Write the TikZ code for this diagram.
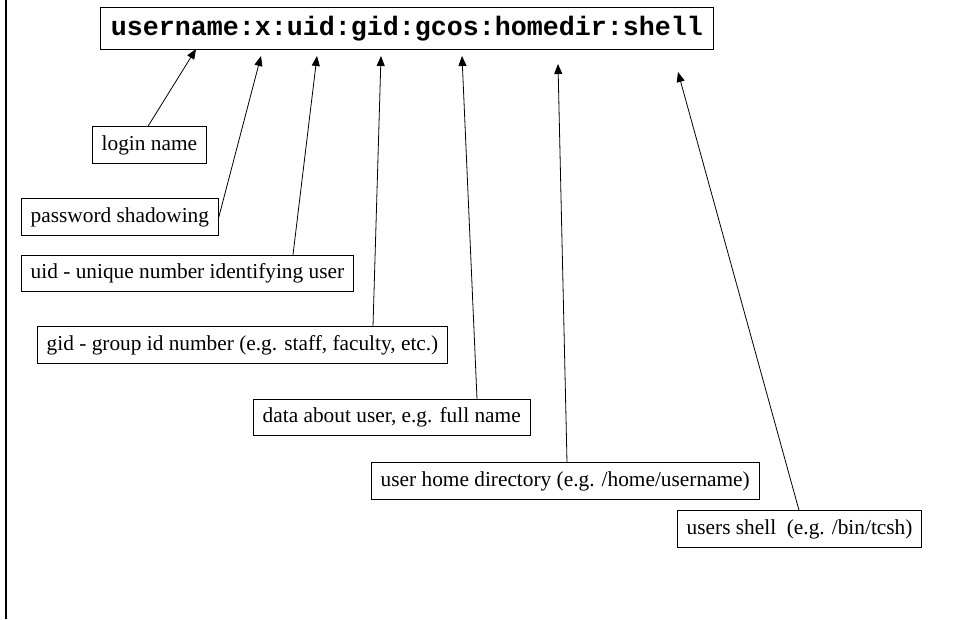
\documentclass[tikz,border=0pt]{standalone}
\usepackage{fontspec}
\setmainfont{Liberation Serif}
\setmonofont{Liberation Mono}
\usetikzlibrary{arrows.meta,calc}
\tikzset{
  field/.style={draw,line width=0.6pt,anchor=west,font=\fontsize{16}{18}\selectfont,
    inner xsep=7pt,minimum height=27.5pt},
  entry/.style={draw,line width=0.6pt,font=\fontsize{20}{22}\ttfamily\bfseries,
    minimum width=460pt,minimum height=32pt},
  pointer/.style={line width=0.6pt,-{Triangle[length=7.5pt,width=6pt]}}
}
\begin{document}
\begin{tikzpicture}[x=0.75pt,y=-0.75pt]
            \useasboundingbox (0,0) rectangle (957,619);
            \draw[line width=1.6pt] (6,0) -- (6,619);
            \node[entry] (entry) at (407,28.5) {username:x:uid:gid:gcos:homedir:shell};
            \node[field] (login) at (92,145) {login name};
            \node[field] (passwd) at (21,217) {password shadowing};
            \node[field] (uid) at (21,273.5) {uid - unique number identifying user};
            \node[field] (gid) at (37,345) {gid - group id number (e.g. staff, faculty, etc.)};
            \node[field] (gcos) at (253,417.5) {data about user, e.g. full name};
            \node[field] (homedir) at (371,481) {user home directory (e.g. /home/username)};
            \node[field] (shell) at (677,529) {users shell\ \ (e.g. /bin/tcsh)};
            \coordinate (t1) at (196,49);
            \coordinate (t2) at (261,56);
            \coordinate (t3) at (317,56);
            \coordinate (t4) at (381,56);
            \coordinate (t5) at (462,56);
            \coordinate (t6) at (558,64);
            \coordinate (t7) at (678,72);
            \draw[pointer] ($(login.north west)+(56,0)$) -- (t1);
            \draw[pointer] (passwd.east) -- (t2);
            \draw[pointer] ($(uid.north west)+(272,0)$) -- (t3);
            \draw[pointer] ($(gid.north west)+(336,0)$) -- (t4);
            \draw[pointer] ($(gcos.north west)+(224,0)$) -- (t5);
            \draw[pointer] ($(homedir.north west)+(196,0)$) -- (t6);
            \draw[pointer] ($(shell.north west)+(122,0)$) -- (t7);
        \end{tikzpicture}
\end{document}
